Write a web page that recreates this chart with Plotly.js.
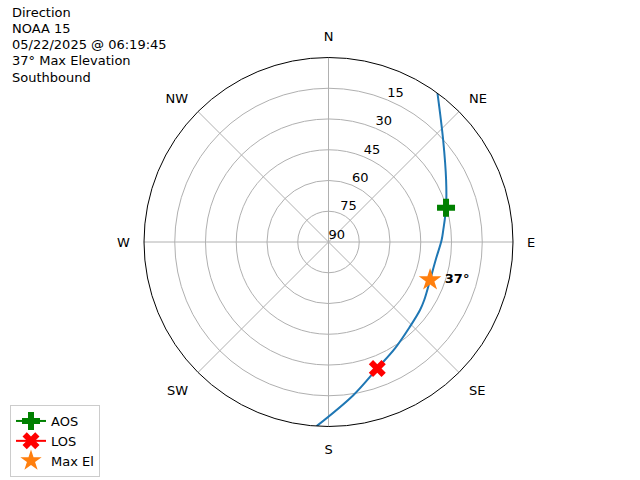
<!DOCTYPE html>
<html>
<head>
<meta charset="utf-8">
<script src="https://cdn.plot.ly/plotly-3.0.1.min.js"></script>
<style>html,body{margin:0;padding:0;background:#fff;}#chart{width:640px;height:480px;}</style>
</head>
<body>
<div id="chart"></div>
<script>
// Pass track (azimuth deg clockwise from N, elevation deg)
const trackAz = [36.2, 48.4, 62.3, 73.8, 84.0, 89.0, 99.5, 110.5, 121.2, 126.6, 136.1, 148.0, 158.9, 170.8, 183.7];
const trackEl = [0, 15.2, 25.2, 30.3, 33.7, 34.8, 37.0, 37.1, 35.4, 34.4, 32.7, 28.8, 23.9, 14.3, 0];
const aosAz = [73.8], aosEl = [30.3];
const losAz = [158.9], losEl = [23.9];
const maxAz = [110.5], maxEl = [37.1];
const maxLabel = ["37°"];
const compassVals = [0, 45, 90, 135, 180, 225, 270, 315];
const compassText = ["N", "NE", "E", "SE", "S", "SW", "W", "NW"];
const elevTicks = [90, 75, 60, 45, 30, 15];
const elevLabelAz = 22.5;
const titleLines = ["Direction", "NOAA 15", "05/22/2025 @ 06:19:45", "37° Max Elevation", "Southbound"];

const font = "DejaVu Sans, sans-serif";
const traces = [
  {type: "scatterpolar", r: trackEl, theta: trackAz, mode: "lines",
   line: {color: "#1f77b4", width: 2, shape: "spline"}, showlegend: false, hoverinfo: "skip"},
  {type: "scatterpolar", r: aosEl, theta: aosAz, mode: "lines+markers", name: "AOS",
   line: {color: "green", width: 2}, marker: {symbol: "cross", size: 15, color: "green"}},
  {type: "scatterpolar", r: losEl, theta: losAz, mode: "lines+markers", name: "LOS",
   line: {color: "red", width: 2}, marker: {symbol: "x", size: 15, color: "red"}},
  {type: "scatterpolar", r: maxEl, theta: maxAz, mode: "markers", name: "Max El",
   marker: {symbol: "star", size: 17, color: "#ff7f0e"}},
  {type: "scatterpolar", r: maxEl, theta: maxAz, mode: "markers+text", text: maxLabel.map(t => "<b>" + t + "</b>"),
   marker: {size: 22, color: "rgba(0,0,0,0)"},
   textposition: "middle right", textfont: {family: font, size: 13, color: "black"}, showlegend: false, hoverinfo: "skip"},
  {type: "scatterpolar", r: elevTicks, theta: elevTicks.map(() => elevLabelAz), mode: "text",
   text: elevTicks.map(String), textposition: "top right",
   textfont: {family: font, size: 13, color: "black"}, showlegend: false, hoverinfo: "skip", cliponaxis: false}
];

const annotations = titleLines.map((t, i) => ({
  xref: "paper", yref: "paper", x: 10 / 640, y: 1 - (12 + i * 16.3) / 480,
  xanchor: "left", yanchor: "middle", align: "left", showarrow: false, text: t,
  font: {family: font, size: 13, color: "black"}
}));

const layout = {
  width: 640, height: 480,
  margin: {l: 0, r: 0, t: 0, b: 0},
  paper_bgcolor: "white",
  font: {family: font, size: 13, color: "black"},
  polar: {
    domain: {x: [144 / 640, 513 / 640], y: [53.5 / 480, 422.5 / 480]},
    bgcolor: "white",
    angularaxis: {
      rotation: 90, direction: "clockwise",
      tickmode: "array", tickvals: compassVals, ticktext: compassText,
      showline: true, linecolor: "black", linewidth: 1,
      gridcolor: "#b0b0b0", gridwidth: 1,
      ticks: "outside", ticklen: 11, tickcolor: "rgba(0,0,0,0)",
      tickfont: {family: font, size: 13, color: "black"}
    },
    radialaxis: {
      range: [90, 0],
      tickmode: "array", tickvals: elevTicks,
      angle: 67.5, showticklabels: false,
      showline: false, ticks: "",
      gridcolor: "#b0b0b0", gridwidth: 1
    }
  },
  legend: {
    x: 10 / 640, y: 1 - 405 / 480, xanchor: "left", yanchor: "top",
    bordercolor: "#cccccc", borderwidth: 1, bgcolor: "white",
    font: {family: font, size: 13, color: "black"}
  },
  annotations: annotations
};

Plotly.newPlot("chart", traces, layout, {staticPlot: true});
</script>
</body>
</html>
